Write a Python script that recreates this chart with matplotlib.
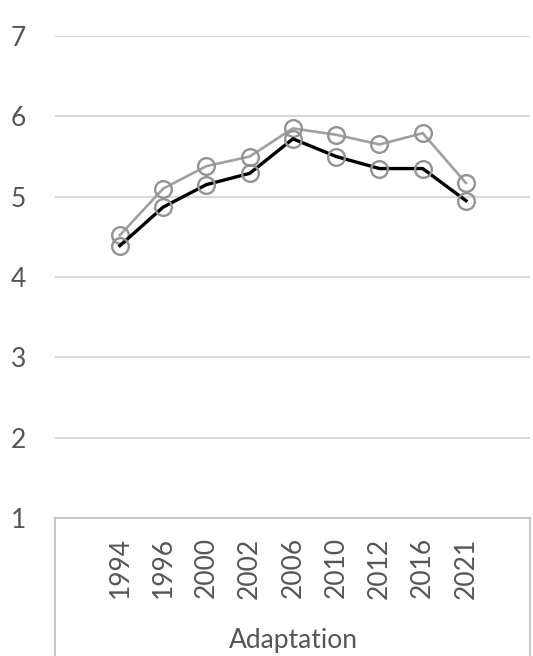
import matplotlib
matplotlib.use('Agg')
import matplotlib.pyplot as plt
from matplotlib.patches import Rectangle

years = ['1994', '1996', '2000', '2002', '2006', '2010', '2012', '2016', '2021']
upper = [4.52, 5.10, 5.38, 5.50, 5.85, 5.77, 5.65, 5.79, 5.17]
lower = [4.39, 4.87, 5.15, 5.29, 5.72, 5.50, 5.35, 5.35, 4.95]
y_ticks = [1, 2, 3, 4, 5, 6, 7]
group_label = 'Adaptation'

plt.rcParams['font.family'] = ['Lato', 'DejaVu Sans']
text_color = '#555555'

fig = plt.figure(figsize=(5.33, 6.56), dpi=100)
ax = fig.add_axes([55 / 533, 138 / 656, 475 / 533, 482 / 656])

x = list(range(len(years)))
ax.plot(x, upper, color='#a0a0a0', lw=1.9, marker='o', ms=12,
        mfc='none', mec='#939393', mew=1.7, zorder=3)
ax.plot(x, lower, color='#000000', lw=2.4, marker='o', ms=12,
        mfc='none', mec='#939393', mew=1.7, zorder=4)

ax.set_xlim(-1.5, 9.48)
ax.set_ylim(1, 7)
ax.set_yticks(y_ticks)
ax.set_yticklabels([str(v) for v in y_ticks])
ax.set_xticks([])
for v in y_ticks[1:]:
    ax.axhline(v, color='#d9d9d9', lw=1.5, zorder=1)
for s in ax.spines.values():
    s.set_visible(False)
ax.tick_params(axis='y', length=0, pad=21, labelsize=19, labelcolor=text_color)

# category box under the plot area
ax.add_patch(Rectangle((0, -0.5), 1, 0.5, transform=ax.transAxes,
                       fill=False, ec='#c8c8c8', lw=1.5, clip_on=False))
for i, yr in enumerate(years):
    ax.text(i, -0.04, yr, transform=ax.get_xaxis_transform(), rotation=90,
            ha='center', va='top', fontsize=19, color=text_color)
ax.text(4, -0.255, group_label, transform=ax.get_xaxis_transform(),
        ha='center', va='center', fontsize=19, color=text_color)

fig.savefig('out.png', dpi=100)
